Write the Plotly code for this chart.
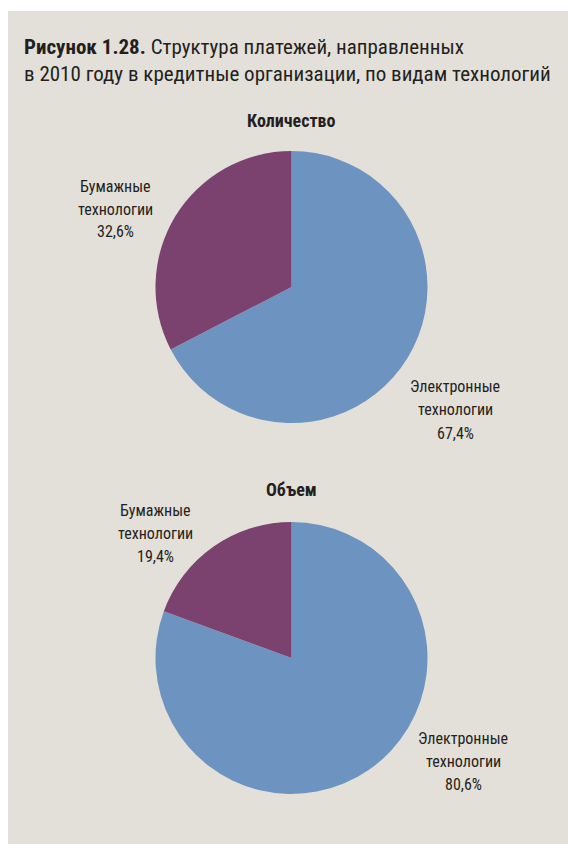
import plotly.graph_objects as go

# Payment structure by technology type, 2010
categories = ["Бумажные технологии", "Электронные технологии"]
count_share = [32.6, 67.4]
volume_share = [19.4, 80.6]
panel_titles = ["Количество", "Объем"]

W, H = 568, 844
BG = "#e3dfd9"
COLORS = ["#7b4270", "#6d93c0"]
FONT = "Liberation Sans Narrow, Roboto Condensed, Roboto, Arial"
INK = "#231f20"


def px_x(x):
    return x / W


def px_y(y):
    return 1 - y / H


def fmt(v):
    return f"{v:.1f}".replace(".", ",") + "%"


def label_lines(cat, v):
    a, b = cat.split(" ")
    return [a, b, fmt(v)]


fig = go.Figure()

# pie geometry (pixels): centre x, centre y, radius
# slices are fed in reverse so the paper share ends at 12 o'clock on the left
pies = [(291.5, 287, 136), (291.5, 658, 136)]
for (cx, cy, r), vals in zip(pies, [count_share, volume_share]):
    fig.add_trace(go.Pie(
        labels=categories[::-1], values=vals[::-1], sort=False, direction="clockwise",
        rotation=0, textinfo="none", hoverinfo="label+percent",
        marker=dict(colors=COLORS[::-1], line=dict(width=0)),
        domain=dict(x=[px_x(cx - r), px_x(cx + r)], y=[px_y(cy + r), px_y(cy - r)]),
        showlegend=False,
    ))

ann = []
# panel headings
for t, y in zip(panel_titles, [120, 489]):
    ann.append(dict(x=px_x(291.5), y=px_y(y), text=f"<b>{t}</b>", showarrow=False,
                    xanchor="center", yanchor="middle",
                    font=dict(family=FONT, size=18, color=INK)))

# slice labels: three centred lines each
label_pos = [
    [(115, 186), (455, 387)],
    [(155, 510), (463, 738)],
]
LINE_STEP = 23
for vals, poss in zip([count_share, volume_share], label_pos):
    for cat, v, (x, y) in zip(categories, vals, poss):
        for i, line in enumerate(label_lines(cat, v)):
            ann.append(dict(x=px_x(x), y=px_y(y + i * LINE_STEP), text=line, showarrow=False,
                            xanchor="center", yanchor="middle",
                            font=dict(family=FONT, size=16, color=INK)))

# figure caption
ann.append(dict(x=px_x(22), y=px_y(47), xanchor="left", yanchor="middle", showarrow=False,
                text="<b>Рисунок 1.28.</b> Структура платежей, направленных",
                font=dict(family=FONT, size=21, color=INK)))
ann.append(dict(x=px_x(22), y=px_y(74), xanchor="left", yanchor="middle", showarrow=False,
                text="в 2010 году в кредитные организации, по видам технологий",
                font=dict(family=FONT, size=21, color=INK)))

fig.update_layout(
    width=W, height=H, margin=dict(l=0, r=0, t=0, b=0),
    paper_bgcolor="white", plot_bgcolor="white",
    annotations=ann,
    shapes=[dict(type="rect", xref="paper", yref="paper", x0=px_x(8), x1=1,
                 y0=0, y1=px_y(11), fillcolor=BG, line=dict(width=0), layer="below")],
)

fig.write_html("out.html")
